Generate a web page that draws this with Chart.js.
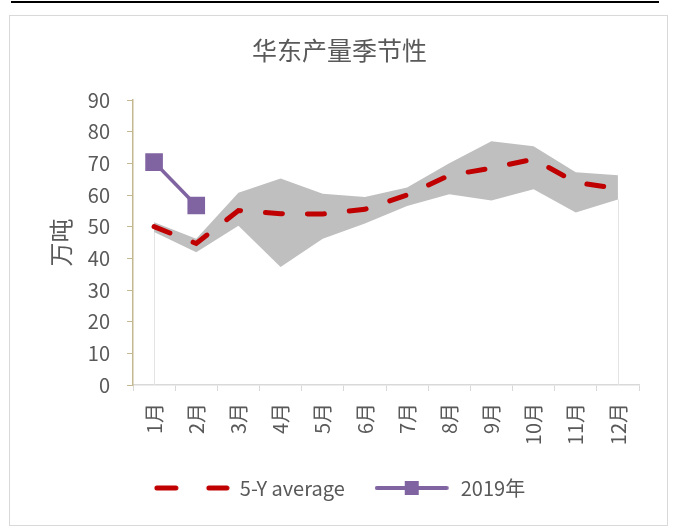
<!DOCTYPE html>
<html>
<head>
<meta charset="utf-8">
<script src="https://cdn.jsdelivr.net/npm/chart.js@4"></script>
<style>
  body { margin: 0; background: #fff; }
  #wrap { position: relative; width: 673px; height: 530px; overflow: hidden; }
  #topline { position: absolute; left: 11px; top: 1px; width: 648px; height: 2px; background: #000; }
  #frame { position: absolute; left: 9px; top: 15px; width: 657px; height: 509px; border: 1.5px solid #d9d9d9; }
  canvas { position: absolute; left: 0; top: 0; }
</style>
</head>
<body>
<div id="wrap">
  <div id="topline"></div>
  <div id="frame"></div>
  <canvas id="chart" width="673" height="530"></canvas>
</div>
<script>
// data
const months = ['1月', '2月', '3月', '4月', '5月', '6月', '7月', '8月', '9月', '10月', '11月', '12月']
const bandLow = [48.3, 41.9, 50.3, 37.3, 46.2, 51.0, 56.5, 60.2, 58.3, 61.8, 54.5, 58.6]
const bandHigh = [51.4, 46.2, 60.7, 65.2, 60.4, 59.4, 62.4, 70.0, 77.0, 75.4, 67.2, 66.2]
const avg5 = [50.0, 44.7, 55.1, 54.1, 54.0, 55.5, 60.0, 66.2, 68.5, 71.3, 64.0, 62.0]
const y2019 = [70.4, 56.7, null, null, null, null, null, null, null, null, null, null]

const textColor = '#595959'
const fontFamily = '"Noto Sans CJK SC", "Noto Sans", sans-serif'

// legend symbols drawn as small images
function legendSymbol(kind) {
  const c = document.createElement('canvas')
  c.width = 76
  c.height = 16
  const g = c.getContext('2d')
  g.lineCap = 'round'
  if (kind == 'dash') {
    g.strokeStyle = '#C00000'
    g.lineWidth = 5
    g.beginPath()
    g.moveTo(3, 8); g.lineTo(22, 8)
    g.moveTo(55, 8); g.lineTo(73, 8)
    g.stroke()
  } else {
    g.strokeStyle = '#8064A2'
    g.lineWidth = 4
    g.beginPath()
    g.moveTo(2, 8); g.lineTo(72, 8)
    g.stroke()
    g.fillStyle = '#8064A2'
    g.fillRect(30, 1, 14, 14)
  }
  return c
}

// faint edge lines of the band down to the axis
const bandEdges = {
  id: 'bandEdges',
  beforeDatasetsDraw(chart) {
    const ctx = chart.ctx
    const x = chart.scales.x
    const y = chart.scales.y
    ctx.save()
    ctx.strokeStyle = '#e3e3e3'
    ctx.lineWidth = 1
    ;[0, bandLow.length - 1].forEach(i => {
      const px = Math.round(x.getPixelForValue(i)) + 0.5
      ctx.beginPath()
      ctx.moveTo(px, y.getPixelForValue(bandLow[i]))
      ctx.lineTo(px, y.getPixelForValue(0))
      ctx.stroke()
    })
    ctx.restore()
  }
}

const data = {
  labels: months,
  datasets: [
    {
      label: 'low',
      data: bandLow,
      borderWidth: 0,
      pointRadius: 0,
      fill: false,
      order: 3
    },
    {
      label: 'high',
      data: bandHigh,
      borderWidth: 0,
      pointRadius: 0,
      backgroundColor: '#BFBFBF',
      fill: '-1',
      order: 3
    },
    {
      label: '5-Y average',
      data: avg5,
      borderColor: '#C00000',
      borderWidth: 5,
      borderDash: [17, 25],
      borderCapStyle: 'round',
      pointRadius: 0,
      fill: false,
      order: 1
    },
    {
      label: '2019年',
      data: y2019,
      borderColor: '#8064A2',
      backgroundColor: '#8064A2',
      borderWidth: 3.5,
      pointStyle: 'rect',
      pointRadius: 10,
      pointHoverRadius: 10,
      fill: false,
      order: 0
    }
  ]
}

const config = {
  type: 'line',
  data: data,
  plugins: [bandEdges],
  options: {
    responsive: false,
    animation: false,
    events: [],
    layout: { padding: { left: 40, right: 34, top: 0, bottom: 22 } },
    elements: { line: { tension: 0 } },
    plugins: {
      title: {
        display: true,
        text: '华东产量季节性',
        color: textColor,
        font: { family: fontFamily, size: 25, weight: 'normal' },
        padding: { top: 35, bottom: 35 }
      },
      legend: {
        position: 'bottom',
        labels: {
          color: textColor,
          font: { family: fontFamily, size: 20 },
          usePointStyle: true,
          pointStyleWidth: 76,
          boxHeight: 16,
          padding: 30,
          filter: item => item.datasetIndex >= 2,
          generateLabels(chart) {
            return chart.data.datasets.map((ds, i) => ({
              text: ds.label,
              datasetIndex: i,
              pointStyle: legendSymbol(i == 2 ? 'dash' : 'line'),
              fontColor: textColor,
              lineWidth: 0
            }))
          }
        }
      },
      tooltip: { enabled: false }
    },
    scales: {
      x: {
        offset: true,
        grid: { offset: true, drawOnChartArea: false, tickLength: 6, color: '#d9d9d9' },
        border: { color: '#d9d9d9', width: 1.5 },
        ticks: {
          color: textColor,
          font: { family: fontFamily, size: 20 },
          minRotation: 90,
          maxRotation: 90,
          padding: 12
        },
        afterFit(scale) { scale.height = 63 }
      },
      y: {
        min: 0,
        max: 90,
        grid: { drawOnChartArea: false, tickLength: 6, color: '#C4B891' },
        border: { color: '#C4B891', width: 1.5 },
        ticks: {
          stepSize: 10,
          color: textColor,
          font: { family: fontFamily, size: 20 },
          padding: 17
        },
        title: {
          display: true,
          text: '万吨',
          color: textColor,
          font: { family: fontFamily, size: 24 },
          padding: { top: 6, bottom: 0 }
        },
        afterFit(scale) { scale.width = 93 }
      }
    }
  }
}

new Chart(document.getElementById('chart'), config)
</script>
</body>
</html>
